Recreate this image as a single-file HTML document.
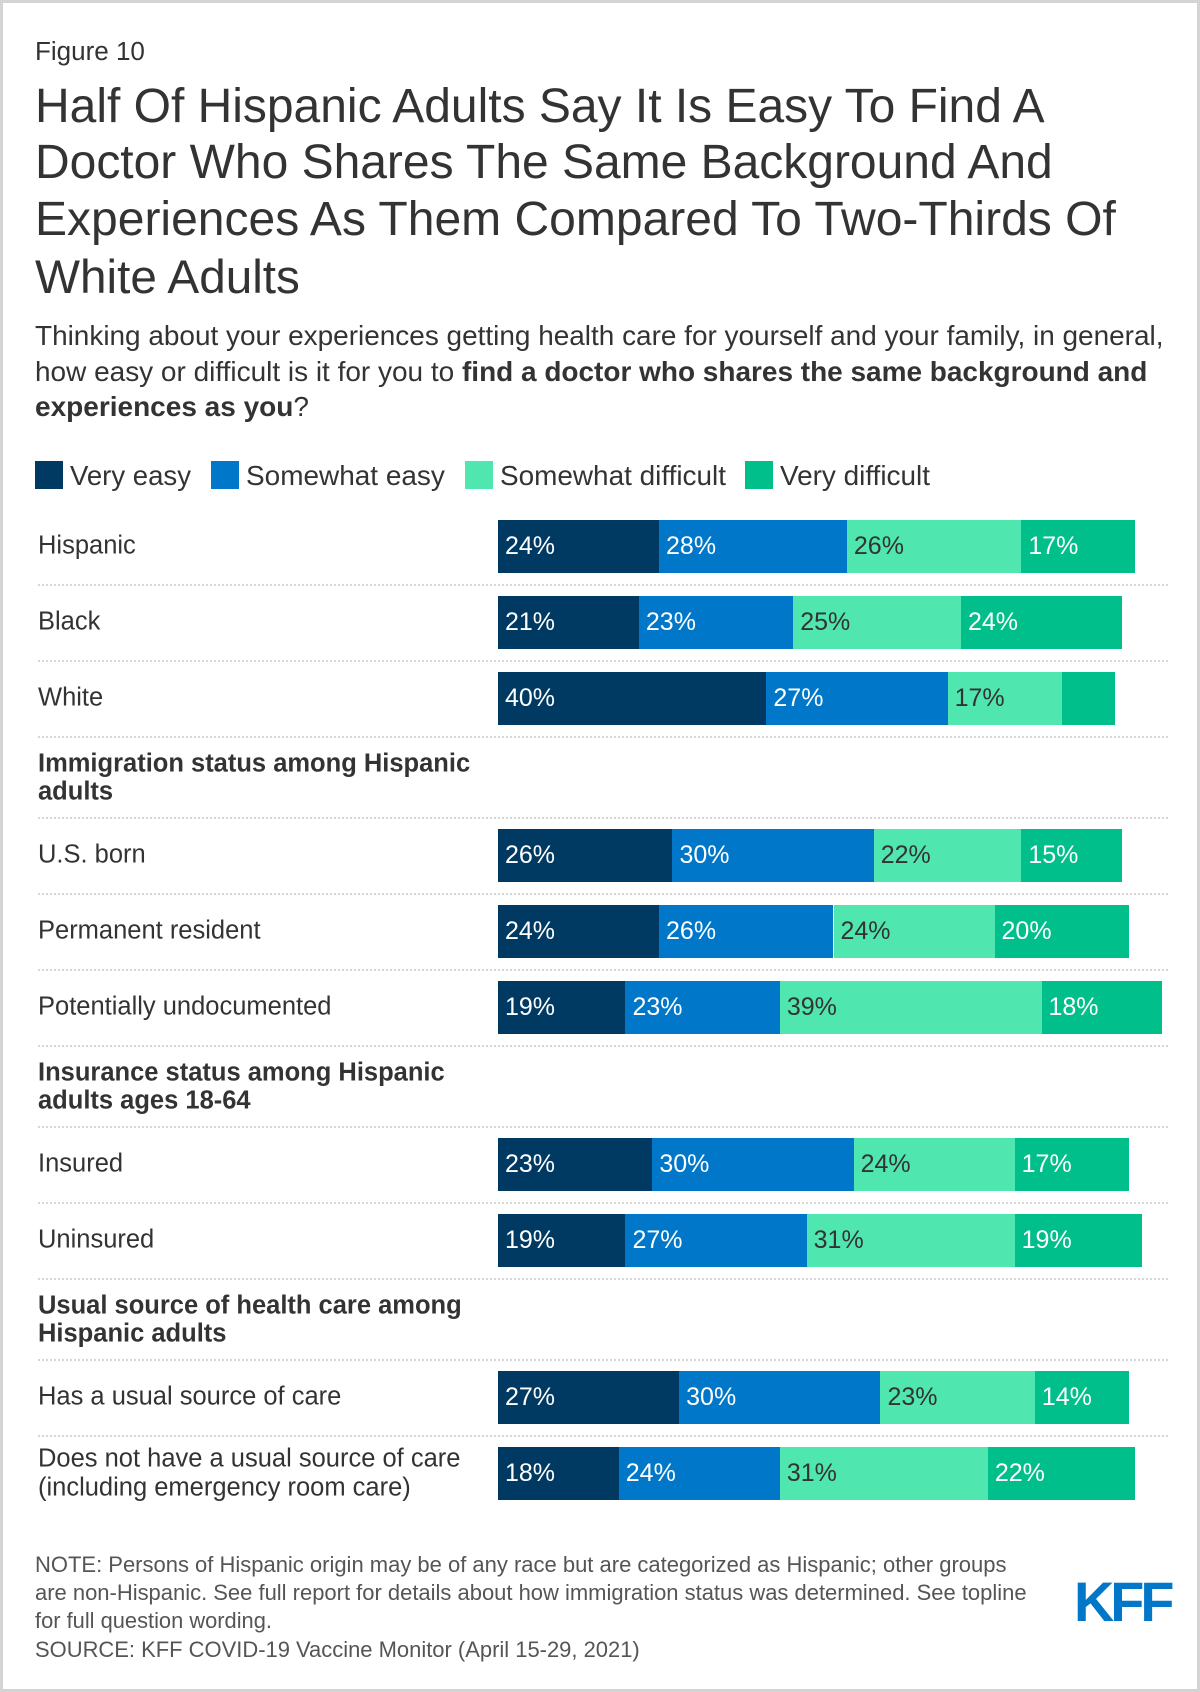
<!DOCTYPE html>
<html><head><meta charset="utf-8"><style>
html,body{margin:0;padding:0;background:#fff}
#page{position:relative;width:1200px;height:1692px;box-sizing:border-box;border:3px solid #d4d4d4;font-family:"Liberation Sans",Arial,sans-serif;color:#333;overflow:hidden}
.ln{position:absolute;white-space:nowrap;line-height:1;transform:translateY(-50%)}
.leg{position:absolute;top:458px;width:28px;height:28px}
.sep{position:absolute;left:35px;width:1130px;height:0;border-top:2px dotted #d6d6d6}
.seg{position:absolute;height:53px}
.val{position:absolute;font-size:25px;line-height:53px;padding-left:7px;box-sizing:border-box;white-space:nowrap}
</style></head><body>
<div id="page">
<span class="ln fit" style="left:32px;top:48px;font-size:21px" data-tw="110">Figure 10</span>
<div>
<span class="ln fit" style="left:32px;top:104px;font-size:42px" data-tw="1010">Half Of Hispanic Adults Say It Is Easy To Find A</span>
<span class="ln fit" style="left:32px;top:160px;font-size:42px" data-tw="1018">Doctor Who Shares The Same Background And</span>
<span class="ln fit" style="left:32px;top:217px;font-size:42px" data-tw="1081">Experiences As Them Compared To Two-Thirds Of</span>
<span class="ln fit" style="left:32px;top:275px;font-size:42px" data-tw="265">White Adults</span>
</div>
<div>
<span class="ln fit" style="left:32px;top:333px;font-size:24px" data-tw="1129">Thinking about your experiences getting health care for yourself and your family, in general,</span>
<span class="ln fit" style="left:32px;top:369px;font-size:24px" data-tw="1113">how easy or difficult is it for you to <b>find a doctor who shares the same background and</b></span>
<span class="ln fit" style="left:32px;top:404px;font-size:24px" data-tw="274"><b>experiences as you</b>?</span>
</div>
<div class="leg" style="left:32px;background:#003a63"></div>
<span class="ln fit" style="left:67px;top:473px;font-size:25px" data-tw="121">Very easy</span>
<div class="leg" style="left:208px;background:#0077c8"></div>
<span class="ln fit" style="left:243px;top:473px;font-size:25px" data-tw="199">Somewhat easy</span>
<div class="leg" style="left:462px;background:#50e6b0"></div>
<span class="ln fit" style="left:497px;top:473px;font-size:25px" data-tw="226">Somewhat difficult</span>
<div class="leg" style="left:742px;background:#00bf8a"></div>
<span class="ln fit" style="left:777px;top:473px;font-size:25px" data-tw="150">Very difficult</span>
<div id="plot"></div>
<div style="color:#555">
<span class="ln fit" style="left:32px;top:1562px;font-size:19px" data-tw="972">NOTE: Persons of Hispanic origin may be of any race but are categorized as Hispanic; other groups</span>
<span class="ln fit" style="left:32px;top:1590px;font-size:19px" data-tw="992">are non-Hispanic. See full report for details about how immigration status was determined. See topline</span>
<span class="ln fit" style="left:32px;top:1618px;font-size:19px" data-tw="237">for full question wording.</span>
<span class="ln fit" style="left:32px;top:1647px;font-size:19px" data-tw="605">SOURCE: KFF COVID-19 Vaccine Monitor (April 15-29, 2021)</span>
</div>
<span class="ln fit" style="left:1071px;top:1600px;font-size:54px;font-weight:bold;color:#0077c8;letter-spacing:-4px" data-tw="96">KFF</span>
</div>
<script>
const categories = ["Hispanic","Black","White","U.S. born","Permanent resident","Potentially undocumented","Insured","Uninsured","Has a usual source of care","Does not have a usual source of care|(including emergency room care)"];
const veryEasy = [24,21,40,26,24,19,23,19,27,18];
const somewhatEasy = [28,23,27,30,26,23,30,27,30,24];
const somewhatDifficult = [26,25,17,22,24,39,24,31,23,31];
const veryDifficult = [17,24,8,15,20,18,17,19,14,22];
const showLabel = [[1,1,1,1],[1,1,1,1],[1,1,1,0],[1,1,1,1],[1,1,1,1],[1,1,1,1],[1,1,1,1],[1,1,1,1],[1,1,1,1],[1,1,1,1]];
const headers = ["Immigration status among Hispanic|adults","Insurance status among Hispanic|adults ages 18-64","Usual source of health care among|Hispanic adults"];

const series=[veryEasy,somewhatEasy,somewhatDifficult,veryDifficult];
const colors=["#003a63","#0077c8","#50e6b0","#00bf8a"];
const txt=["#fff","#fff","#333","#fff"];
const names=["very-easy","somewhat-easy","somewhat-difficult","very-difficult"];
const x0=495, pxPer=6.71;
const xs=v=>v*pxPer;
const plot=document.getElementById('plot');
const hdrBefore={3:0,6:1,8:2};
function line(text,top,bold){
  const s=document.createElement('span');s.className='ln';
  s.style.left='35px';s.style.top=top+'px';s.style.fontSize='25.5px';
  if(bold)s.style.fontWeight='bold';
  s.textContent=text;return s;
}
function sep(top){
  const s=document.createElement('div');s.className='sep';s.style.top=top+'px';
  
  
  plot.appendChild(s);
}
let y=543, prevSep=null;
for(let i=0;i<categories.length;i++){
  if(hdrBefore[i]!==undefined){
    const parts=headers[hdrBefore[i]].split('|');
    const g=document.createElement('div');
    
    
    g.appendChild(line(parts[0],prevSep+28,true));
    g.appendChild(line(parts[1],prevSep+56,true));
    plot.appendChild(g);
    sep(prevSep+81);
    y=prevSep+81+38;
  }
  const parts=categories[i].split('|');
  const g=document.createElement('div');
  
  
  if(parts.length>1){g.appendChild(line(parts[0],y-14));g.appendChild(line(parts[1],y+15));}
  else g.appendChild(line(parts[0],y));
  plot.appendChild(g);
  let cx=x0;
  for(let k=0;k<4;k++){
    const v=series[k][i], w=xs(v);
    const b=document.createElement('div');b.className='seg';
    b.style.left=cx+'px';b.style.top=(y-26.5)+'px';b.style.width=w+'px';b.style.background=colors[k];
    
    
    plot.appendChild(b);
    if(showLabel[i][k]){
      const t=document.createElement('div');t.className='val';
      t.style.left=cx+'px';t.style.top=(y-26.5)+'px';t.style.color=txt[k];t.textContent=v+'%';
      
      
      plot.appendChild(t);
    }
    cx+=w;
  }
  prevSep=y+38;
  if(i<categories.length-1) sep(prevSep);
  y+=76;
}
document.querySelectorAll('.fit').forEach(el=>{
  const tw=parseFloat(el.getAttribute('data-tw'));
  const w=el.getBoundingClientRect().width;
  if(w>0){const fs=parseFloat(getComputedStyle(el).fontSize);el.style.fontSize=(fs*tw/w)+'px';}
});
</script>
</body></html>
